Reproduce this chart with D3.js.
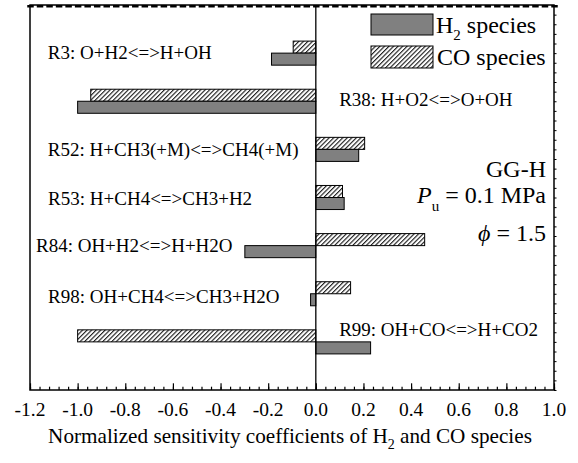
<!DOCTYPE html>
<html>
<head>
<meta charset="utf-8">
<script src="https://cdn.jsdelivr.net/npm/d3@7/dist/d3.min.js"></script>
<style>
  html, body { margin: 0; padding: 0; background: #fff; }
  svg { display: block; font-family: "Liberation Serif", "Times New Roman", serif; }
</style>
</head>
<body>
<svg id="chart" width="578" height="463"></svg>
<script>
// Reactions, top to bottom
const reactions = [
  "R3: O+H2<=>H+OH",
  "R38: H+O2<=>O+OH",
  "R52: H+CH3(+M)<=>CH4(+M)",
  "R53: H+CH4<=>CH3+H2",
  "R84: OH+H2<=>H+H2O",
  "R98: OH+CH4<=>CH3+H2O",
  "R99: OH+CO<=>H+CO2"
];
// Normalized sensitivity coefficients
const h2Values = [-0.186, -1.0, 0.18, 0.119, -0.298, -0.022, 0.23];
const coValues = [-0.095, -0.945, 0.205, 0.112, 0.457, 0.146, -1.0];
// x-axis tick labels
const xTicks = [-1.2, -1.0, -0.8, -0.6, -0.4, -0.2, 0.0, 0.2, 0.4, 0.6, 0.8, 1.0];

// Where each reaction label sits: x in data units, vertical nudge in px
const labelLayout = [
  { x: -1.125, dy: 6 },
  { x: 0.098, dy: 5 },
  { x: -1.125, dy: 6.7 },
  { x: -1.124, dy: 7 },
  { x: -1.175, dy: 6.7 },
  { x: -1.124, dy: 9.3 },
  { x: 0.098, dy: -5.7 }
];

const svg = d3.select("#chart");
const L = 30, R = 554, T = 5, B = 390;

const x = d3.scaleLinear().domain([-1.2, 1.0]).range([L, R]);
const y = d3.scaleLinear().domain([0, reactions.length + 1]).range([T, B]);
const barH = 0.25;

// Hatch pattern for CO bars
const defs = svg.append("defs");
defs.append("pattern")
  .attr("id", "hatch")
  .attr("patternUnits", "userSpaceOnUse")
  .attr("width", 3.2).attr("height", 3.2)
  .attr("patternTransform", "rotate(45)")
  .call(p => {
    p.append("rect").attr("width", 3.2).attr("height", 3.2).attr("fill", "#fff");
    p.append("line").attr("x1", 0.6).attr("y1", 0).attr("x2", 0.6).attr("y2", 3.2)
      .attr("stroke", "#000").attr("stroke-width", 1);
  });

const grey = "#808080";

// Bars: CO above the category line, H2 below
const rows = reactions.map((r, i) => ({ r, i: i + 1, h2: h2Values[i], co: coValues[i] }));

svg.append("g").selectAll("rect.co").data(rows).join("rect")
  .attr("class", "co")
  .attr("x", d => x(Math.min(0, d.co)))
  .attr("width", d => Math.abs(x(d.co) - x(0)))
  .attr("y", d => y(d.i - barH))
  .attr("height", d => y(d.i) - y(d.i - barH))
  .attr("fill", "url(#hatch)")
  .attr("stroke", "#000").attr("stroke-width", 1);

svg.append("g").selectAll("rect.h2").data(rows).join("rect")
  .attr("class", "h2")
  .attr("x", d => x(Math.min(0, d.h2)))
  .attr("width", d => Math.abs(x(d.h2) - x(0)))
  .attr("y", d => y(d.i))
  .attr("height", d => y(d.i + barH) - y(d.i))
  .attr("fill", grey)
  .attr("stroke", "#000").attr("stroke-width", 1);

// Zero line
svg.append("line")
  .attr("x1", x(0)).attr("x2", x(0)).attr("y1", T).attr("y2", B)
  .attr("stroke", "#000").attr("stroke-width", 1.3);

// Reaction labels
svg.append("g").selectAll("text").data(rows).join("text")
  .attr("x", (d, k) => x(labelLayout[k].x))
  .attr("y", (d, k) => y(d.i) + labelLayout[k].dy)
  .attr("font-size", 19)
  .text(d => d.r);

// Bottom axis: major + minor ticks pointing inward
const minorTicks = d3.range(-1.2, 1.0001, 0.04).map(v => +v.toFixed(2));
svg.append("g").attr("transform", `translate(0,${B})`)
  .call(d3.axisTop(x).tickValues(minorTicks).tickSize(3.3).tickFormat(""))
  .call(g => g.select(".domain").remove())
  .call(g => g.selectAll("line").attr("stroke", "#000").attr("stroke-width", 1.2));
svg.append("g").attr("transform", `translate(0,${B})`)
  .call(d3.axisTop(x).tickValues(xTicks).tickSize(6.7).tickFormat(""))
  .call(g => g.select(".domain").remove())
  .call(g => g.selectAll("line").attr("stroke", "#000").attr("stroke-width", 1.2));

// Tick labels
svg.append("g").selectAll("text").data(xTicks).join("text")
  .attr("x", d => x(d))
  .attr("y", 415.7)
  .attr("text-anchor", "middle")
  .attr("font-size", 19.5)
  .text(d => d3.format(".1f")(d).replace("−", "-"));

// Top axis ticks
svg.append("g").attr("transform", `translate(0,${T})`)
  .call(d3.axisBottom(x).tickValues(minorTicks).tickSize(2.5).tickFormat(""))
  .call(g => g.select(".domain").remove())
  .call(g => g.selectAll("line").attr("stroke", "#000").attr("stroke-width", 6.5));

// Right axis ticks
const yMinor = d3.range(0, reactions.length + 1.0001, 0.2).map(v => +v.toFixed(2));
svg.append("g").attr("transform", `translate(${R},0)`)
  .call(d3.axisRight(y).tickValues(yMinor).tickSize(2.5).tickFormat(""))
  .call(g => g.select(".domain").remove())
  .call(g => g.selectAll("line").attr("stroke", "#000").attr("stroke-width", 1));

// Frame
svg.append("rect")
  .attr("x", L).attr("y", T).attr("width", R - L).attr("height", B - T)
  .attr("fill", "none").attr("stroke", "#000").attr("stroke-width", 1.5);

// Axis title
const title = svg.append("text")
  .attr("x", 290).attr("y", 443.3)
  .attr("text-anchor", "middle")
  .attr("font-size", 21.2);
title.append("tspan").text("Normalized sensitivity coefficients of H");
title.append("tspan").attr("font-size", 14).attr("dy", 6).text("2");
title.append("tspan").attr("dy", -6).text(" and CO species");

// Legend
const legend = svg.append("g");
legend.append("rect").attr("x", 371).attr("y", 14).attr("width", 62).attr("height", 21)
  .attr("fill", grey).attr("stroke", "#000").attr("stroke-width", 1);
legend.append("rect").attr("x", 371).attr("y", 46).attr("width", 62).attr("height", 22)
  .attr("fill", "url(#hatch)").attr("stroke", "#000").attr("stroke-width", 1);
const lt1 = legend.append("text").attr("x", 436).attr("y", 33.3).attr("font-size", 24);
lt1.append("tspan").text("H");
lt1.append("tspan").attr("font-size", 15).attr("dy", 7).text("2");
lt1.append("tspan").attr("dy", -7).text(" species");
legend.append("text").attr("x", 437).attr("y", 65).attr("font-size", 24).text("CO species");

// Condition annotations
const ann = svg.append("g").attr("text-anchor", "end").attr("font-size", 24);
ann.append("text").attr("x", 546).attr("y", 177).text("GG-H");
const p = ann.append("text").attr("x", 546).attr("y", 203.3);
p.append("tspan").attr("font-style", "italic").text("P");
p.append("tspan").attr("font-size", 15).attr("dy", 8).text("u");
p.append("tspan").attr("dy", -8).text(" = 0.1 MPa");
const phi = ann.append("text").attr("x", 546).attr("y", 240.7);
phi.append("tspan").attr("font-style", "italic").text("\u03d5");
phi.append("tspan").text(" = 1.5");
</script>
</body>
</html>
